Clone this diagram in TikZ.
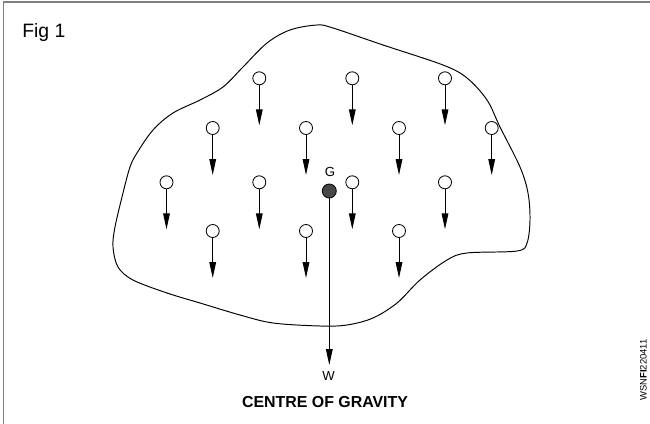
\documentclass[tikz,border=0pt]{standalone}
\usepackage{fontspec}
\setmainfont{Liberation Sans}
\usetikzlibrary{arrows.meta}
\tikzset{
  mass/.style={draw, circle, fill=white, inner sep=0pt, minimum size=0.13in, line width=0.6pt},
  load/.style={line width=0.7pt, -{Triangle[length=11.5pt, width=4.8pt]}},
  gdot/.style={draw, circle, fill=black!72, inner sep=0pt, minimum size=0.14in, line width=0.6pt}
}

\begin{document}
\begin{tikzpicture}[x=1in,y=1in]
\useasboundingbox (0,0) rectangle (6.5,4.24);
\draw[black!50, line width=1.4pt] (0.035,0) -- (0.035,4.22) -- (6.5,4.22);
\node[font=\fontsize{14}{16}\selectfont, anchor=base west, inner sep=0pt] (fig) at (0.22,3.86) {Fig 1};
\draw[line width=0.7pt] plot[smooth cycle, tension=0.55] coordinates {
  (3.17,3.99) (3.33,3.96) (3.83,3.79) (4.43,3.59) (4.67,3.46) (4.87,3.24)
  (5.00,2.97) (5.20,2.57) (5.28,2.31) (5.30,2.04) (5.27,1.81) (5.17,1.73)
  (4.67,1.71) (4.47,1.64) (4.20,1.44) (3.97,1.21) (3.73,1.06) (3.47,0.99)
  (3.20,0.98) (2.73,1.01) (2.40,1.09) (2.00,1.21) (1.67,1.31) (1.33,1.44)
  (1.18,1.57) (1.13,1.77) (1.15,1.97) (1.23,2.31) (1.30,2.57) (1.37,2.71)
  (1.53,2.94) (1.73,3.11) (2.00,3.24) (2.23,3.37) (2.43,3.57) (2.67,3.81)
  (2.90,3.94)};
% particles
\node[mass] (p1) at (2.593,3.457) {};
\node[mass] (p2) at (3.523,3.457) {};
\node[mass] (p3) at (4.45,3.457) {};
\node[mass] (p4) at (2.127,2.96) {};
\node[mass] (p5) at (3.06,2.96) {};
\node[mass] (p6) at (3.99,2.96) {};
\node[mass] (p7) at (4.917,2.96) {};
\node[mass] (p8) at (1.665,2.417) {};
\node[mass] (p9) at (2.593,2.417) {};
\node[mass] (p10) at (3.523,2.417) {};
\node[mass] (p11) at (4.45,2.417) {};
\node[mass] (p12) at (2.127,1.93) {};
\node[mass] (p13) at (3.06,1.93) {};
\node[mass] (p14) at (3.99,1.93) {};
\draw[load] (p1) -- ++(0,-0.47);
\draw[load] (p2) -- ++(0,-0.47);
\draw[load] (p3) -- ++(0,-0.47);
\draw[load] (p4) -- ++(0,-0.47);
\draw[load] (p5) -- ++(0,-0.47);
\draw[load] (p6) -- ++(0,-0.47);
\draw[load] (p7) -- ++(0,-0.47);
\draw[load] (p8) -- ++(0,-0.47);
\draw[load] (p9) -- ++(0,-0.47);
\draw[load] (p10) -- ++(0,-0.47);
\draw[load] (p11) -- ++(0,-0.47);
\draw[load] (p12) -- ++(0,-0.47);
\draw[load] (p13) -- ++(0,-0.47);
\draw[load] (p14) -- ++(0,-0.47);
% centre of gravity
\node[gdot] (g) at (3.293,2.33) {};
\node[font=\fontsize{9.5}{11}\selectfont] (glabel) at (3.30,2.517) {G};
\coordinate (wtip) at (3.293,0.59);
\draw[load] (g) -- (wtip);
\node[font=\fontsize{9.5}{11}\selectfont] (wlabel) at (3.285,0.48) {W};
\node[font=\bfseries\fontsize{11.5}{13}\selectfont] (title) at (3.25,0.22) {CENTRE OF GRAVITY};
\node[font=\fontsize{6.8}{8}\selectfont, rotate=90] (code) at (6.435,0.54) {WSN\textbf{FI}220411};
\end{tikzpicture}
\end{document}
